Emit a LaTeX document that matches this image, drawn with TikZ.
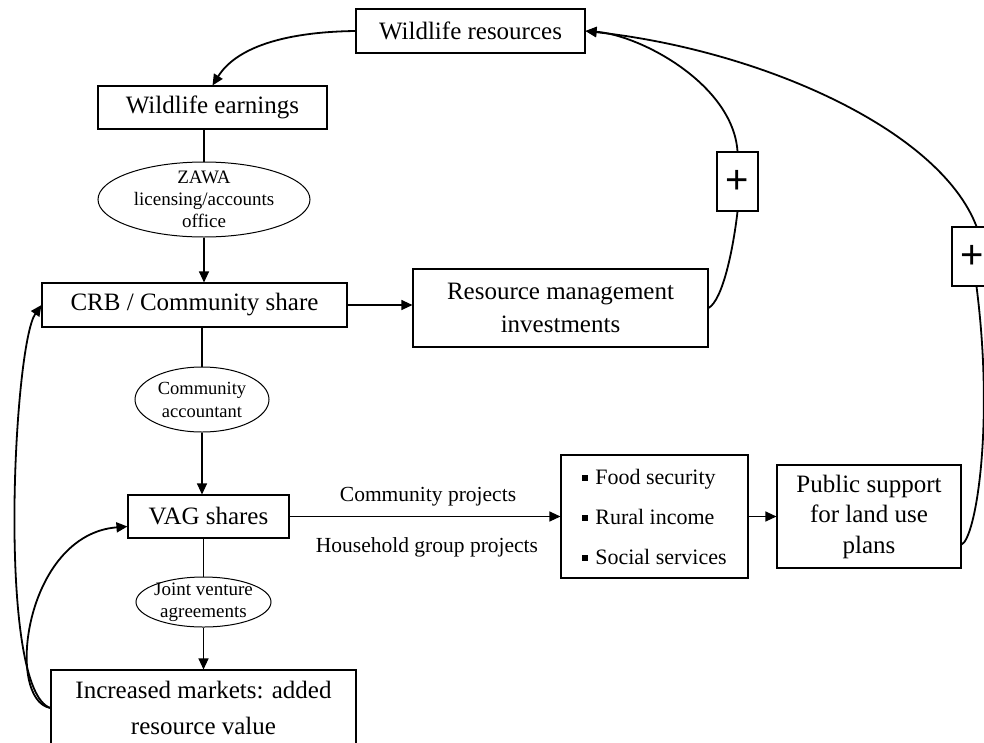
\documentclass[tikz,border=0pt]{standalone}
\usepackage{fontspec}
\setmainfont{Liberation Serif}
\newfontfamily\plusfont{Liberation Sans}
\usetikzlibrary{shapes.geometric,arrows.meta}
\tikzset{
  boxnode/.style={draw,line width=1.1pt,inner sep=0pt,align=center,font=\fontsize{25}{30}\selectfont},
  ovalnode/.style={draw,ellipse,line width=1pt,inner sep=0pt},
  ovaltext/.style={inner sep=0pt,align=center,font=\fontsize{19}{22}\selectfont},
  plusbox/.style={draw,line width=1.1pt,inner sep=0pt,minimum width=41pt,minimum height=59pt,font=\plusfont\fontsize{40}{40}\selectfont},
  link/.style={line width=1.1pt},
  arrowlink/.style={line width=1.1pt,-{Triangle[length=11pt,width=10pt]}},
  curvelink/.style={line width=1.8pt},
  curvearrow/.style={line width=1.8pt,-{Triangle[length=11pt,width=10pt]}},
  plain/.style={inner sep=0pt,font=\fontsize{21.5}{24}\selectfont}
}
\newcommand{\sqbullet}{\rule[3.5pt]{6pt}{6pt}\hspace{7pt}}
\begin{document}
\begin{tikzpicture}[x=1pt,y=-1pt]
\useasboundingbox (0,0) rectangle (984,742);
\clip (0,0) rectangle (984,742);
\fill[white] (0,0) rectangle (984,742);

% boxes
\node[boxnode,minimum width=229pt,minimum height=44pt] (res) at (470.5,31) {Wildlife resources};
\node[boxnode,minimum width=229pt,minimum height=43pt] (earn) at (212.5,107.5) {Wildlife earnings};
\node[boxnode,minimum width=305pt,minimum height=44pt] (crb) at (194.5,305) {CRB / Community share};
\node[boxnode,minimum width=295pt,minimum height=78pt,font=\fontsize{25}{33}\selectfont] (rmi) at (560.5,308) {Resource management\\investments};
\node[boxnode,minimum width=161pt,minimum height=43pt] (vag) at (208.5,516.5) {VAG shares};
\node[boxnode,minimum width=305pt,minimum height=76pt,font=\fontsize{25}{36}\selectfont] (inc) at (203.5,708) {Increased markets: added\\resource value};
\node[boxnode,minimum width=187pt,minimum height=123pt,align=left,font=\fontsize{22}{40}\selectfont] (bul) at (654.5,516.5) {\sqbullet Food security\\\sqbullet Rural income\\\sqbullet Social services};
\node[boxnode,minimum width=184pt,minimum height=103pt,font=\fontsize{25}{30.5}\selectfont] (pub) at (869,516.5) {Public support\\for land use\\plans};

% ellipses
\node[ovalnode,minimum width=212pt,minimum height=75pt] (zawa) at (204,199.5) {};
\node[ovaltext] (zawat) at (zawa.center) {ZAWA\\licensing/accounts\\office};
\node[ovalnode,minimum width=134pt,minimum height=65pt] (acc) at (202,399.5) {};
\node[ovaltext,font=\fontsize{18.5}{23}\selectfont] (acct) at (acc.center) {Community\\accountant};
\node[ovalnode,minimum width=135pt,minimum height=50pt] (jv) at (203.5,602) {};
\node[ovaltext] (jvt) at (jv.center) {Joint venture\\agreements};

% plus boxes
\node[plusbox] (plusa) at (737.5,181.5) {+};
\node[plusbox] (plusb) at (972.5,256.5) {+};

% edge labels
\node[plain] (cp) at (428,497) {Community projects};
\node[plain] (hp) at (427,547) {Household group projects};

% straight connectors
\draw[link] (zawa.north |- earn.south) -- (zawa.north);
\draw[arrowlink] (zawa.south) -- (zawa.south |- crb.north);
\draw[arrowlink] (crb.east) -- (crb.east -| rmi.west);
\draw[link] (acc.north |- crb.south) -- (acc.north);
\draw[arrowlink] (acc.south) -- (acc.south |- vag.north);
\draw[link] (jv.north |- vag.south) -- (jv.north);
\draw[arrowlink] (jv.south) -- (jv.south |- inc.north);
\draw[arrowlink] (vag.east) -- (vag.east -| bul.west);
\draw[arrowlink] (bul.east) -- (bul.east -| pub.west);

% curved connectors
\draw[curvearrow] (res.west) .. controls +(-76,1) and +(22.5,-36) .. (earn.north);
\draw[curvelink] (rmi.east) .. controls +(14,-8) and +(-4.5,39) .. (plusa.south);
\draw[curvearrow] (plusa.north) .. controls +(-4.5,-67) and +(55,4) .. (res.east);
\draw[curvelink] ([yshift=-28pt]pub.east) .. controls +(14,-6) and +(18,140) .. ([xshift=4pt]plusb.south);
\draw[curvearrow] ([xshift=4pt]plusb.north) .. controls +(-37,-97) and +(175,19) .. (res.east);
\draw[curvearrow] (inc.west) .. controls +(-54,-18) and +(-28,40) .. (crb.west);
\draw[curvearrow] (inc.west) .. controls +(-46,-8) and +(-103,8) .. ([yshift=-10pt]vag.west);
\end{tikzpicture}
\end{document}
